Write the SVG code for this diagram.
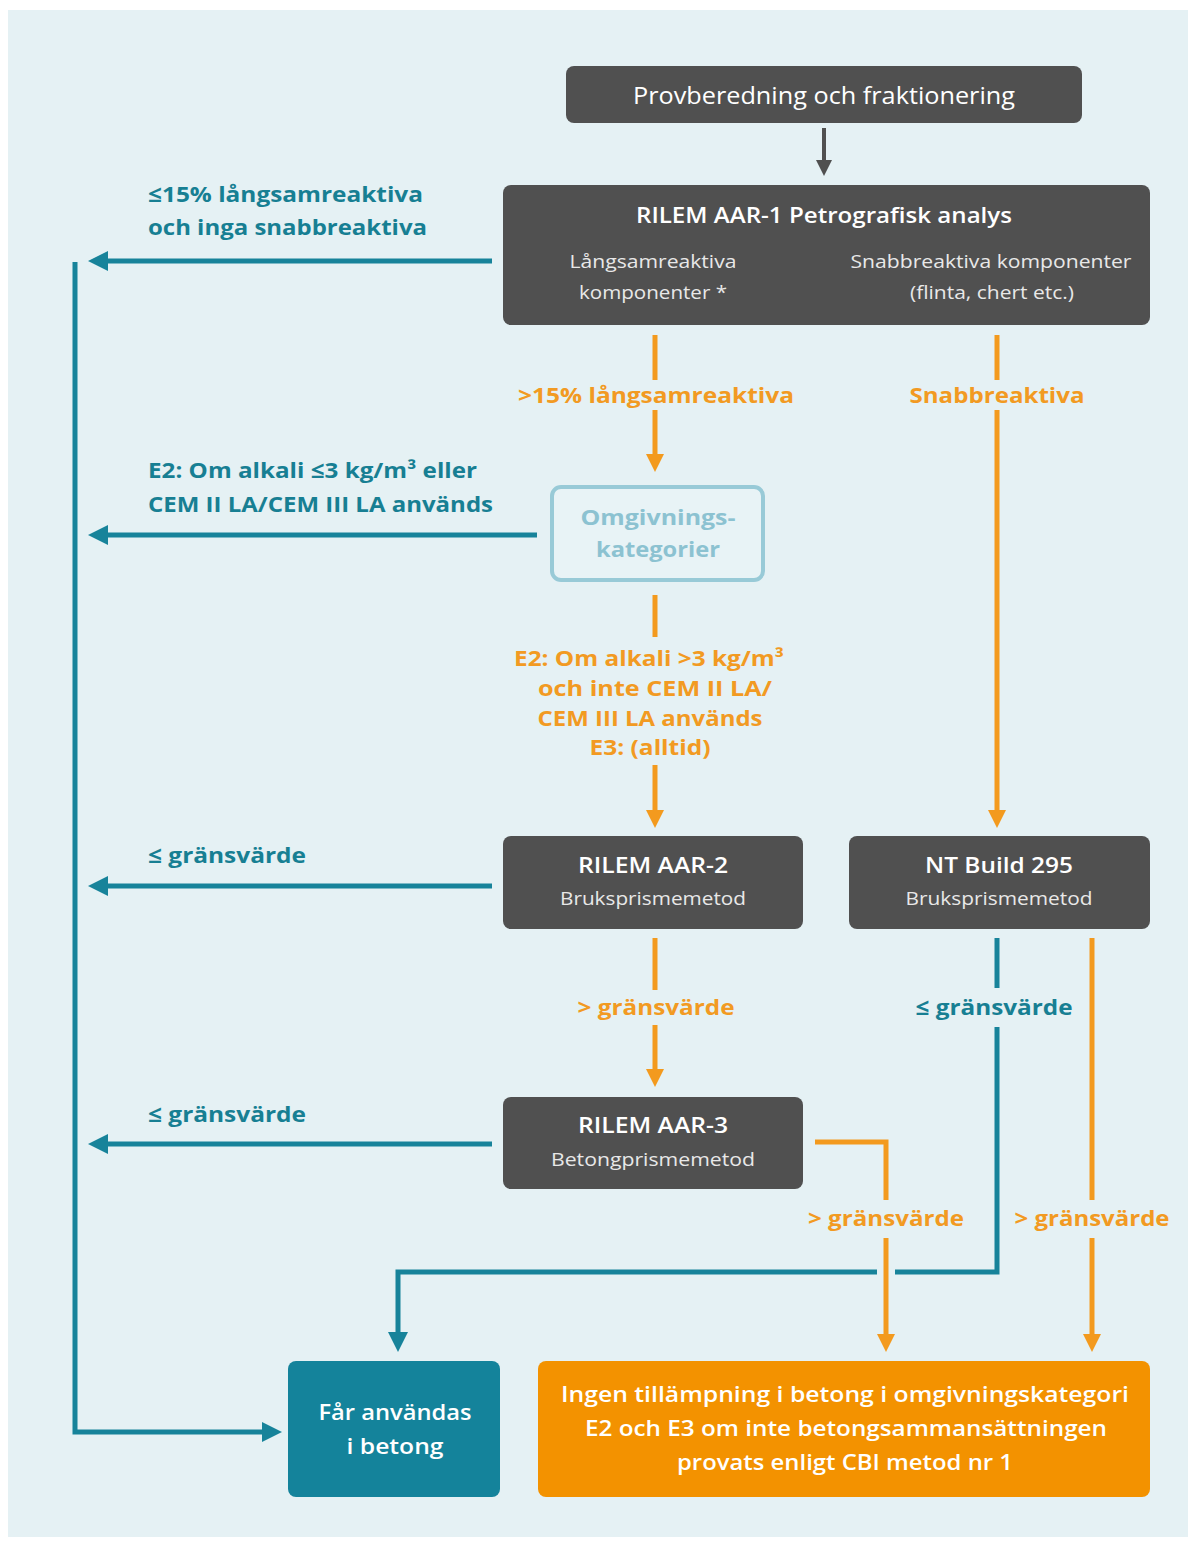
<svg xmlns="http://www.w3.org/2000/svg" width="1195" height="1541" viewBox="0 0 1195 1541">
<defs>
<style>
.bg{fill:#e5f1f4}
.dark{fill:#505050}
.t{font-family:"Open Sans","Liberation Sans",sans-serif}
.lbl{font-size:22px;font-weight:700}
.teal{fill:#177f93}
.or{fill:#f29a22}
.w{fill:#ffffff}
.title{font-size:22px;font-weight:600}
.sub{font-size:18px;font-weight:400;fill:#e8e8e8}
.mid{text-anchor:middle}
.lt{stroke:#17839a;stroke-width:5;fill:none}
.lo{stroke:#f39a1e;stroke-width:5;fill:none}
.ld{stroke:#505050;stroke-width:4;fill:none}
</style>
<marker id="mt" markerUnits="userSpaceOnUse" markerWidth="22" markerHeight="22" refX="8" refY="10" orient="auto"><path d="M0,0 L20,10 L0,20 z" fill="#17839a"/></marker>
<marker id="mo" markerUnits="userSpaceOnUse" markerWidth="20" markerHeight="20" refX="6" refY="9" orient="auto"><path d="M0,0 L18,9 L0,18 z" fill="#f39a1e"/></marker>
<marker id="md" markerUnits="userSpaceOnUse" markerWidth="20" markerHeight="20" refX="6" refY="8" orient="auto"><path d="M0,0 L16,8 L0,16 z" fill="#505050"/></marker>
</defs>
<rect x="0" y="0" width="1195" height="1541" fill="#ffffff"/>
<rect x="8" y="10" width="1180" height="1527" class="bg"/>

<g id="connectors">
<line class="ld" x1="824" y1="128" x2="824" y2="166" marker-end="url(#md)"/>
<line class="lt" x1="492" y1="261" x2="100" y2="261" marker-end="url(#mt)"/>
<path class="lt" d="M75,262 V1432 H270" marker-end="url(#mt)"/>
<line class="lo" x1="655" y1="335" x2="655" y2="380"/>
<line class="lo" x1="655" y1="410" x2="655" y2="460" marker-end="url(#mo)"/>
<line class="lo" x1="997" y1="335" x2="997" y2="380"/>
<line class="lo" x1="997" y1="410" x2="997" y2="816" marker-end="url(#mo)"/>
<line class="lt" x1="537" y1="535" x2="100" y2="535" marker-end="url(#mt)"/>
<line class="lo" x1="655" y1="595" x2="655" y2="637"/>
<line class="lo" x1="655" y1="765" x2="655" y2="816" marker-end="url(#mo)"/>
<line class="lt" x1="492" y1="886" x2="100" y2="886" marker-end="url(#mt)"/>
<line class="lo" x1="655" y1="938" x2="655" y2="990"/>
<line class="lo" x1="655" y1="1025" x2="655" y2="1075" marker-end="url(#mo)"/>
<line class="lt" x1="997" y1="938" x2="997" y2="988"/>
<path class="lt" d="M997,1027 V1272 H895 M877,1272 H398 V1340" marker-end="url(#mt)"/>
<line class="lo" x1="1092" y1="938" x2="1092" y2="1200"/>
<line class="lo" x1="1092" y1="1238" x2="1092" y2="1340" marker-end="url(#mo)"/>
<line class="lt" x1="492" y1="1144" x2="100" y2="1144" marker-end="url(#mt)"/>
<path class="lo" d="M815,1142 H886 V1200"/>
<line class="lo" x1="886" y1="1238" x2="886" y2="1340" marker-end="url(#mo)"/>

<text class="t lbl teal" x="148" y="202" textLength="275" lengthAdjust="spacingAndGlyphs">≤15% långsamreaktiva</text>
<text class="t lbl teal" x="148" y="235" textLength="279" lengthAdjust="spacingAndGlyphs">och inga snabbreaktiva</text>
<text class="t lbl or mid" x="656" y="403" textLength="276" lengthAdjust="spacingAndGlyphs">&gt;15% långsamreaktiva</text>
<text class="t lbl or mid" x="997" y="403" textLength="175" lengthAdjust="spacingAndGlyphs">Snabbreaktiva</text>
<text class="t lbl teal" x="148" y="478" textLength="329" lengthAdjust="spacingAndGlyphs">E2: Om alkali ≤3 kg/m³ eller</text>
<text class="t lbl teal" x="148" y="512" textLength="345" lengthAdjust="spacingAndGlyphs">CEM II LA/CEM III LA används</text>
<text class="t lbl or mid" x="649" y="666" textLength="270" lengthAdjust="spacingAndGlyphs">E2: Om alkali &gt;3 kg/m³</text>
<text class="t lbl or mid" x="655" y="696" textLength="234" lengthAdjust="spacingAndGlyphs">och inte CEM II LA/</text>
<text class="t lbl or mid" x="650" y="726" textLength="225" lengthAdjust="spacingAndGlyphs">CEM III LA används</text>
<text class="t lbl or mid" x="650" y="755" textLength="121" lengthAdjust="spacingAndGlyphs">E3: (alltid)</text>
<text class="t lbl teal" x="148" y="863" textLength="158" lengthAdjust="spacingAndGlyphs">≤ gränsvärde</text>
<text class="t lbl or mid" x="656" y="1015" textLength="157" lengthAdjust="spacingAndGlyphs">&gt; gränsvärde</text>
<text class="t lbl teal mid" x="994" y="1015" textLength="157" lengthAdjust="spacingAndGlyphs">≤ gränsvärde</text>
<text class="t lbl teal" x="148" y="1122" textLength="158" lengthAdjust="spacingAndGlyphs">≤ gränsvärde</text>
<text class="t lbl or mid" x="886" y="1226" textLength="156" lengthAdjust="spacingAndGlyphs">&gt; gränsvärde</text>
<text class="t lbl or mid" x="1092" y="1226" textLength="155" lengthAdjust="spacingAndGlyphs">&gt; gränsvärde</text>
</g>

<g id="n-prov">
<rect class="dark" x="566" y="66" width="516" height="57" rx="8"/>
<text class="t w mid" x="824" y="104" font-size="24" textLength="382" lengthAdjust="spacingAndGlyphs">Provberedning och fraktionering</text>
</g>

<g id="n-aar1">
<rect class="dark" x="503" y="185" width="647" height="140" rx="8"/>
<text class="t title w mid" x="824" y="223" textLength="376" lengthAdjust="spacingAndGlyphs">RILEM AAR-1 Petrografisk analys</text>
<text class="t sub mid" x="653" y="268" textLength="167" lengthAdjust="spacingAndGlyphs">Långsamreaktiva</text>
<text class="t sub mid" x="653" y="299" textLength="148" lengthAdjust="spacingAndGlyphs">komponenter *</text>
<text class="t sub mid" x="991" y="268" textLength="281" lengthAdjust="spacingAndGlyphs">Snabbreaktiva komponenter</text>
<text class="t sub mid" x="992" y="299" textLength="164" lengthAdjust="spacingAndGlyphs">(flinta, chert etc.)</text>
</g>

<g id="n-omg">
<rect x="552" y="487" width="211" height="93" rx="9" fill="#e8f3f6" stroke="#98cad7" stroke-width="4"/>
<text class="t lbl mid" fill="#8cc2d1" x="658" y="525" textLength="155" lengthAdjust="spacingAndGlyphs">Omgivnings-</text>
<text class="t lbl mid" fill="#8cc2d1" x="658" y="557" textLength="124" lengthAdjust="spacingAndGlyphs">kategorier</text>
</g>

<g id="n-aar2">
<rect class="dark" x="503" y="836" width="300" height="93" rx="8"/>
<text class="t title w mid" x="653" y="873" textLength="150" lengthAdjust="spacingAndGlyphs">RILEM AAR-2</text>
<text class="t sub mid" x="653" y="905" textLength="186" lengthAdjust="spacingAndGlyphs">Bruksprismemetod</text>
</g>

<g id="n-nt">
<rect class="dark" x="849" y="836" width="301" height="93" rx="8"/>
<text class="t title w mid" x="999" y="873" textLength="148" lengthAdjust="spacingAndGlyphs">NT Build 295</text>
<text class="t sub mid" x="999" y="905" textLength="187" lengthAdjust="spacingAndGlyphs">Bruksprismemetod</text>
</g>

<g id="n-aar3">
<rect class="dark" x="503" y="1097" width="300" height="92" rx="8"/>
<text class="t title w mid" x="653" y="1133" textLength="150" lengthAdjust="spacingAndGlyphs">RILEM AAR-3</text>
<text class="t sub mid" x="653" y="1166" textLength="204" lengthAdjust="spacingAndGlyphs">Betongprismemetod</text>
</g>

<g id="n-far">
<rect x="288" y="1361" width="212" height="136" rx="8" fill="#14839b"/>
<text class="t title w mid" x="395" y="1420" textLength="153" lengthAdjust="spacingAndGlyphs">Får användas</text>
<text class="t title w mid" x="395" y="1454" textLength="97" lengthAdjust="spacingAndGlyphs">i betong</text>
</g>

<g id="n-ingen">
<rect x="538" y="1361" width="612" height="136" rx="8" fill="#f39200"/>
<text class="t title w mid" x="845" y="1402" textLength="568" lengthAdjust="spacingAndGlyphs">Ingen tillämpning i betong i omgivningskategori</text>
<text class="t title w mid" x="846" y="1436" textLength="522" lengthAdjust="spacingAndGlyphs">E2 och E3 om inte betongsammansättningen</text>
<text class="t title w mid" x="845" y="1470" textLength="336" lengthAdjust="spacingAndGlyphs">provats enligt CBI metod nr 1</text>
</g>
</svg>
